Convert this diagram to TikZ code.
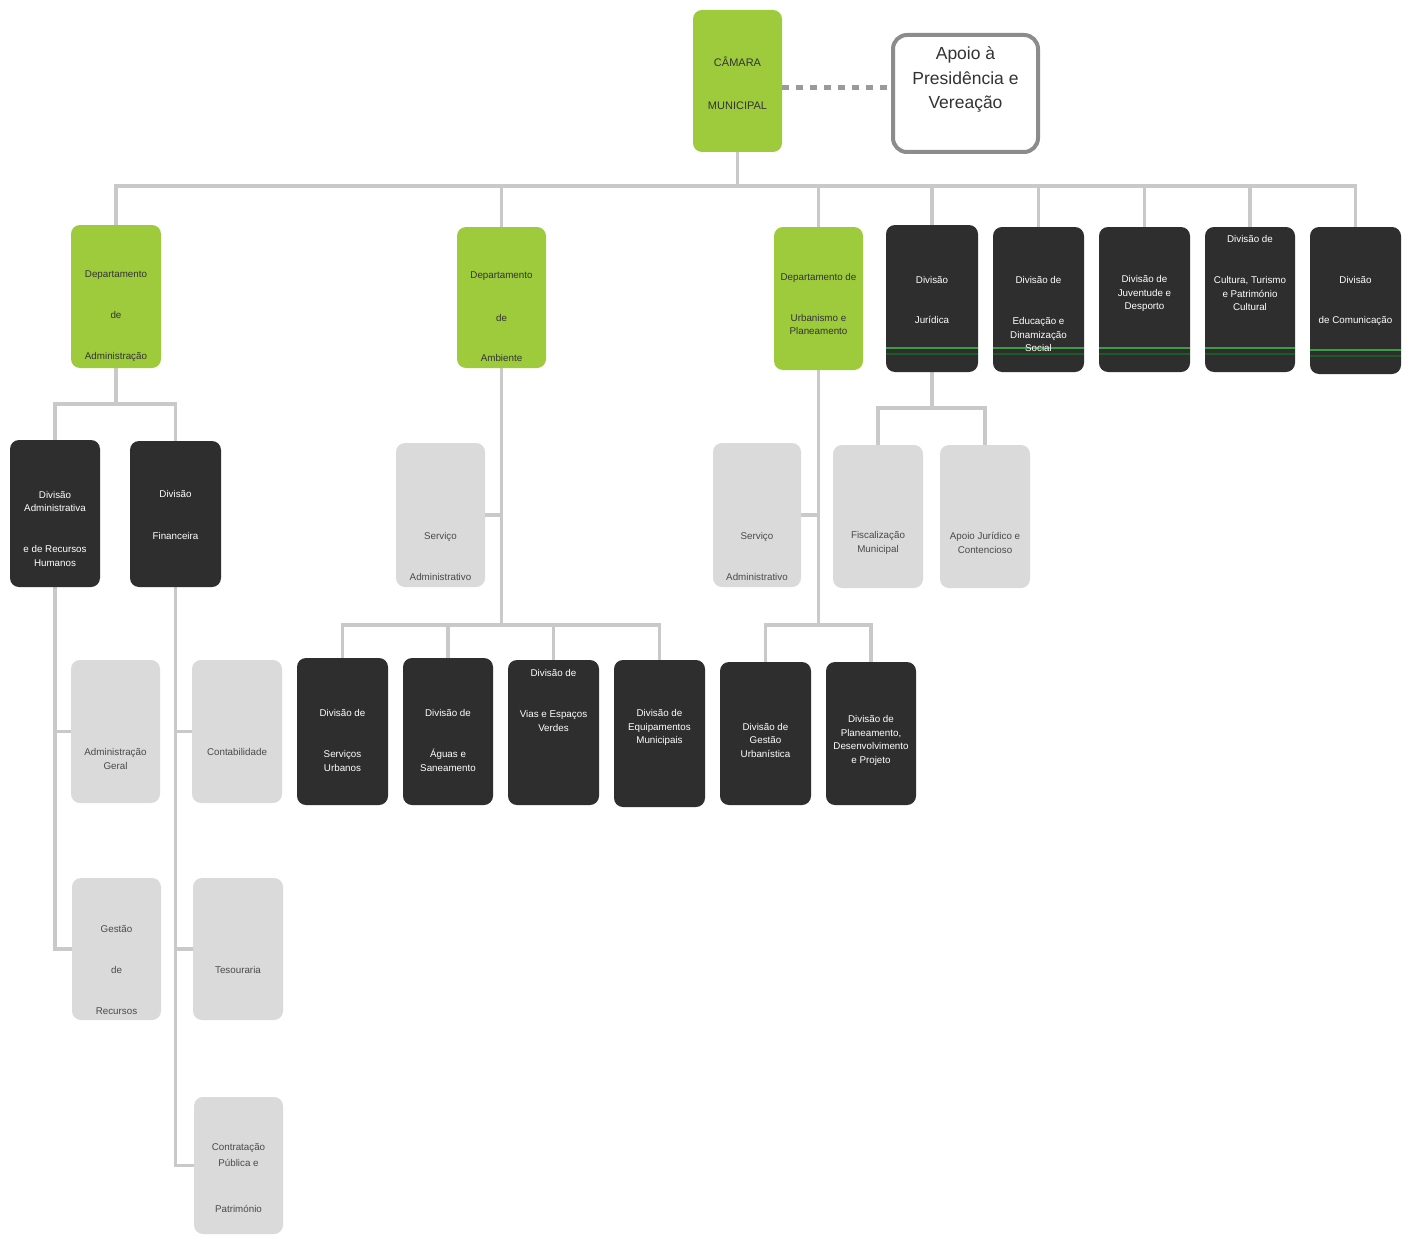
\documentclass[tikz,border=0pt]{standalone}
\usepackage{fontspec}
\setmainfont{Liberation Sans}
\usetikzlibrary{calc}
\definecolor{vgreen}{HTML}{9DCB3C}
\definecolor{dbox}{HTML}{2E2E2E}
\definecolor{lbox}{HTML}{DADADA}
\definecolor{connc}{HTML}{C9C9C9}
\definecolor{gla}{HTML}{3E9A45}
\definecolor{glb}{HTML}{1E5A28}
\definecolor{apb}{HTML}{8C8C8C}
\definecolor{dotc}{HTML}{9A9A9A}
\definecolor{gtx}{HTML}{333333}
\definecolor{ltx}{HTML}{4A4A4A}
\pgfdeclarelayer{bg}
\pgfsetlayers{bg,main}
\tikzset{
  base/.style={rounded corners=9pt, inner sep=0pt, outer sep=0pt},
  gbox/.style={base, fill=vgreen},
  dkbox/.style={base, fill=dbox},
  lbx/.style={base, fill=lbox},
  dkgbox/.style={dkbox, path picture={
     \draw[line width=1.3pt, color=gla] ([yshift=24pt]path picture bounding box.south west) -- ([yshift=24pt]path picture bounding box.south east);
     \draw[line width=2.5pt, color=glb] ([yshift=18pt]path picture bounding box.south west) -- ([yshift=18pt]path picture bounding box.south east);}},
  apbox/.style={rounded corners=14pt, inner sep=0pt, outer sep=0pt, fill=white, draw=apb, line width=4pt},
  tbase/.style={align=center, inner sep=0pt, font=\fontsize{9.8}{13.5}\selectfont},
  gt/.style={tbase, text=gtx},
  wt/.style={tbase, text=white},
  lt/.style={tbase, text=ltx},
  cn/.style={draw=connc, line width=3.5pt, line cap=rect, line join=miter},
  dotl/.style={draw=dotc, line width=5pt, dash pattern=on 7pt off 7pt}
}
\newcommand\bx[9]{%
  \node[#6, minimum width={(#4-#2)*1pt}, minimum height={(#5-#3)*1pt}] (#1) at ({(#2+#4)/2},{(#3+#5)/2}) {};
  \node[#7] (#1-t) at ({(#2+#4)/2},#8) {#9};}
\begin{document}
\begin{tikzpicture}[x=1pt,y=-1pt]
\useasboundingbox (0,0) rectangle (1411,1236);
% top
\bx{cam}{693}{10}{782}{152}{gbox}{gt, font=\fontsize{11}{13}\selectfont}{83.5}{CÂMARA\\[30pt]MUNICIPAL}
\bx{apoio}{893}{35}{1038}{152}{apbox}{gt, font=\fontsize{17.5}{24.5}\selectfont}{79.5}{Apoio à\\Presidência e\\Vereação}
% level 2
\bx{depadm}{71}{225}{161}{368}{gbox}{gt}{316}{Departamento\\[27.5pt]de\\[27.5pt]Administração}
\bx{depamb}{457}{227}{546}{368}{gbox}{gt}{316.5}{Departamento\\[29pt]de\\[26.5pt]Ambiente}
\bx{depurb}{774}{227}{863}{370}{gbox}{gt}{304}{Departamento de\\[27.5pt]Urbanismo e\\Planeamento}
\bx{jur}{886}{225}{978}{372}{dkgbox}{wt}{300}{Divisão\\[26.5pt]Jurídica}
\bx{edu}{993}{227}{1084}{372}{dkgbox}{wt}{314}{Divisão de\\[27.5pt]Educação e\\Dinamização\\Social}
\bx{juv}{1099}{227}{1190}{372}{dkgbox}{wt}{293.5}{Divisão de\\Juventude e\\Desporto}
\bx{cul}{1205}{227}{1295}{372}{dkgbox}{wt}{273}{Divisão de\\[27.5pt]Cultura, Turismo\\e Património\\Cultural}
\bx{com}{1310}{227}{1401}{374}{dkgbox}{wt}{301}{Divisão\\[26.5pt]de Comunicação}
% admin subtree
\bx{divadm}{10}{440}{100}{587}{dkbox}{wt}{528.5}{Divisão\\Administrativa\\[27.5pt]e de Recursos\\Humanos}
\bx{divfin}{130}{441}{221}{587}{dkbox}{wt}{515}{Divisão\\[28.5pt]Financeira}
\bx{admgeral}{71}{660}{160}{803}{lbx}{lt}{759}{Administração\\Geral}
\bx{contab}{192}{660}{282}{803}{lbx}{lt}{752}{Contabilidade}
\bx{gestao}{72}{878}{161}{1020}{lbx}{lt}{970}{Gestão\\[27.5pt]de\\[27.5pt]Recursos}
\bx{tesour}{193}{878}{283}{1020}{lbx}{lt}{970}{Tesouraria}
\bx{contrat}{194}{1097}{283}{1234}{lbx}{lt}{1178}{Contratação\\[2.5pt]Pública e\\[32.5pt]Património}
% ambiente subtree
\bx{servamb}{396}{443}{485}{587}{lbx}{lt}{556.5}{Serviço\\[27.5pt]Administrativo}
\bx{dsu}{297}{658}{388}{805}{dkbox}{wt}{740.5}{Divisão de\\[27.5pt]Serviços\\Urbanos}
\bx{dag}{403}{658}{493}{805}{dkbox}{wt}{740.5}{Divisão de\\[27.5pt]Águas e\\Saneamento}
\bx{dvias}{508}{660}{599}{805}{dkbox}{wt}{700.5}{Divisão de\\[27.5pt]Vias  e Espaços\\Verdes}
\bx{dem}{614}{660}{705}{807}{dkbox}{wt}{727.5}{Divisão de\\Equipamentos\\Municipais}
% urbanismo subtree
\bx{servurb}{713}{443}{801}{587}{lbx}{lt}{556.5}{Serviço\\[27.5pt]Administrativo}
\bx{dgu}{720}{662}{811}{805}{dkbox}{wt}{740}{Divisão de\\Gestão\\Urbanística}
\bx{dpl}{826}{662}{916}{805}{dkbox}{wt}{740.5}{Divisão de\\Planeamento,\\Desenvolvimento\\e Projeto}
% juridica subtree
\bx{fisc}{833}{445}{923}{588}{lbx}{lt}{543}{Fiscalização\\Municipal}
\bx{apjur}{940}{445}{1030}{588}{lbx}{lt}{543}{Apoio Jurídico e\\Contencioso}
% connectors
\coordinate (bus) at (0,186);
\coordinate (abar) at (0,404);
\coordinate (mbar) at (0,625);
\coordinate (jbar) at (0,408);
\coordinate (dotp) at (0,88);
\begin{pgfonlayer}{bg}
\fill[white] (0,0) rectangle (1411,1236);
\draw[cn] (cam.south) -- (cam.south |- bus);
\draw[cn] (depadm.north |- bus) -- (com.north |- bus);
\foreach \n in {depadm,depamb,depurb,jur,edu,juv,cul,com} \draw[cn] (\n.north) -- (\n.north |- bus);
\draw[cn] (depadm.south) -- (depadm.south |- abar);
\draw[cn] (divadm.north |- abar) -- (divfin.north |- abar);
\foreach \n in {divadm,divfin} \draw[cn] (\n.north) -- (\n.north |- abar);
\draw[cn] (divadm.south) -- (divadm.south |- gestao.west) -- (gestao.west);
\draw[cn] (divadm.south |- admgeral.west) -- (admgeral.west);
\draw[cn] (divfin.south) -- (divfin.south |- contrat.west) -- (contrat.west);
\draw[cn] (divfin.south |- contab.west) -- (contab.west);
\draw[cn] (divfin.south |- tesour.west) -- (tesour.west);
\draw[cn] (depamb.south) -- (depamb.south |- mbar);
\draw[cn] (servamb.east) -- (servamb.east -| depamb.south);
\draw[cn] (dsu.north |- mbar) -- (dem.north |- mbar);
\foreach \n in {dsu,dag,dvias,dem} \draw[cn] (\n.north) -- (\n.north |- mbar);
\draw[cn] (depurb.south) -- (depurb.south |- mbar);
\draw[cn] (servurb.east) -- (servurb.east -| depurb.south);
\draw[cn] (dgu.north |- mbar) -- (dpl.north |- mbar);
\foreach \n in {dgu,dpl} \draw[cn] (\n.north) -- (\n.north |- mbar);
\draw[cn] (jur.south) -- (jur.south |- jbar);
\draw[cn] (fisc.north |- jbar) -- (apjur.north |- jbar);
\foreach \n in {fisc,apjur} \draw[cn] (\n.north) -- (\n.north |- jbar);
\draw[dotl] (cam.east |- dotp) -- (apoio.west |- dotp);
\end{pgfonlayer}
\end{tikzpicture}
\end{document}
